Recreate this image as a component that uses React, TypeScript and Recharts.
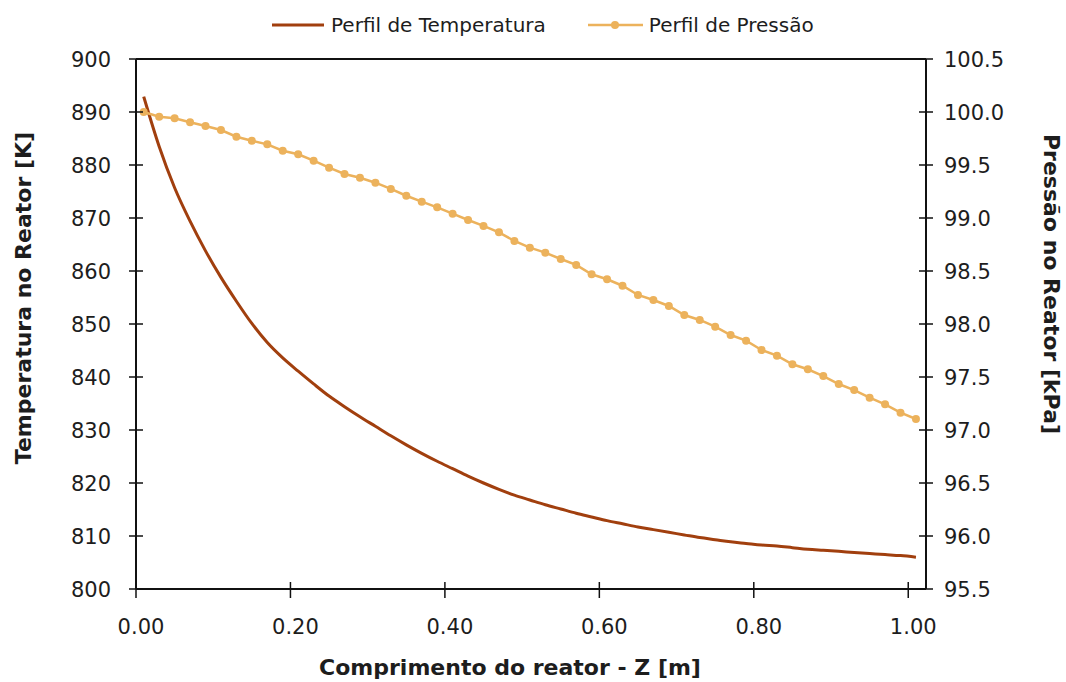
import React from 'react';
import { LineChart, Line, XAxis, YAxis, ReferenceLine, Legend } from 'recharts';

// comprimento do reator z [m]
const comprimento = [
  0.01, 0.03, 0.05, 0.07, 0.09, 0.11, 0.13, 0.15, 0.17, 0.19,
  0.21, 0.23, 0.25, 0.27, 0.29, 0.31, 0.33, 0.35, 0.37, 0.39,
  0.41, 0.43, 0.45, 0.47, 0.49, 0.51, 0.53, 0.55, 0.57, 0.59,
  0.61, 0.63, 0.65, 0.67, 0.69, 0.71, 0.73, 0.75, 0.77, 0.79,
  0.81, 0.83, 0.85, 0.87, 0.89, 0.91, 0.93, 0.95, 0.97, 0.99, 1.01,
];

// temperatura [K]
const temperatura = [
  892.9, 883.5, 875.7, 869.4, 863.8, 858.8, 854.3, 850.1, 846.5, 843.6,
  841.1, 838.7, 836.4, 834.4, 832.5, 830.7, 828.9, 827.2, 825.6, 824.1,
  822.7, 821.3, 820.0, 818.8, 817.7, 816.8, 815.9, 815.1, 814.3, 813.6,
  812.9, 812.3, 811.7, 811.2, 810.7, 810.2, 809.7, 809.3, 808.9, 808.6,
  808.3, 808.1, 807.8, 807.5, 807.3, 807.1, 806.9, 806.7, 806.5, 806.3, 806.0,
];

// pressão [kPa]
const pressao = [
  100.0, 99.956, 99.941, 99.903, 99.868, 99.83, 99.767, 99.729, 99.695, 99.635,
  99.601, 99.541, 99.475, 99.415, 99.38, 99.333, 99.274, 99.21, 99.154, 99.101,
  99.041, 98.981, 98.925, 98.865, 98.783, 98.72, 98.673, 98.613, 98.557, 98.469,
  98.422, 98.361, 98.274, 98.226, 98.17, 98.085, 98.038, 97.975, 97.896, 97.843,
  97.755, 97.701, 97.62, 97.573, 97.509, 97.434, 97.377, 97.305, 97.242, 97.163, 97.104,
];

const xTicks = [0, 0.2, 0.4, 0.6, 0.8, 1.0];
const tempTicks = [800, 810, 820, 830, 840, 850, 860, 870, 880, 890, 900];
const presTicks = [95.5, 96.0, 96.5, 97.0, 97.5, 98.0, 98.5, 99.0, 99.5, 100.0, 100.5];

const data = comprimento.map((z, i) => ({ z, temperatura: temperatura[i], pressao: pressao[i] }));

const FONT = '"DejaVu Sans", Verdana, sans-serif';
const TEMP_COLOR = '#A13F0E';
const PRES_COLOR = '#ECB25C';
const AXIS_COLOR = '#111';
const TEXT_COLOR = '#1d1d1d';

const LEFT_GAP = 25;
const RIGHT_GAP = 18;
const BOTTOM_GAP = 30;
const HALF_TICK = 7;

// axis ticks cross the axis line, like the spreadsheet style
const LeftTick = ({ x, y, payload }: any) => (
  <g>
    <line x1={x + LEFT_GAP - HALF_TICK} x2={x + LEFT_GAP + HALF_TICK} y1={y} y2={y} stroke={AXIS_COLOR} strokeWidth={1.5} />
    <text x={x} y={y} dy="0.36em" textAnchor="end" fontFamily={FONT} fontSize={21} fill={TEXT_COLOR}>
      {payload.value}
    </text>
  </g>
);

const RightTick = ({ x, y, payload }: any) => (
  <g>
    <line x1={x - RIGHT_GAP - HALF_TICK} x2={x - RIGHT_GAP + HALF_TICK} y1={y} y2={y} stroke={AXIS_COLOR} strokeWidth={1.5} />
    <text x={x} y={y} dy="0.36em" textAnchor="start" fontFamily={FONT} fontSize={21} fill={TEXT_COLOR}>
      {Number(payload.value).toFixed(1)}
    </text>
  </g>
);

const BottomTick = ({ x, y, payload }: any) => (
  <g>
    <line x1={x} x2={x} y1={y - BOTTOM_GAP - HALF_TICK} y2={y - BOTTOM_GAP + HALF_TICK + 2} stroke={AXIS_COLOR} strokeWidth={1.5} />
    <text x={x + 5} y={y} dy="0.71em" textAnchor="middle" fontFamily={FONT} fontSize={21} fill={TEXT_COLOR}>
      {Number(payload.value).toFixed(2)}
    </text>
  </g>
);

const XTitle = ({ viewBox }: any) => (
  <text x={viewBox.x + viewBox.width / 2 - 21} y={viewBox.y + 78} dy="0.35em" textAnchor="middle"
    fontFamily={FONT} fontSize={22} fontWeight="bold" fill={TEXT_COLOR}>
    Comprimento do reator - Z [m]
  </text>
);

const TempTitle = ({ viewBox }: any) => {
  const cx = viewBox.x + 23;
  const cy = viewBox.y + viewBox.height / 2 - 26;
  return (
    <text x={cx} y={cy} dy="0.35em" textAnchor="middle" transform={`rotate(-90 ${cx} ${cy})`}
      fontFamily={FONT} fontSize={22} fontWeight="bold" fill={TEXT_COLOR}>
      Temperatura no Reator [K]
    </text>
  );
};

const PresTitle = ({ viewBox }: any) => {
  const cx = viewBox.x + 126;
  const cy = viewBox.y + viewBox.height / 2 - 40;
  return (
    <text x={cx} y={cy} dy="0.35em" textAnchor="middle" transform={`rotate(90 ${cx} ${cy})`}
      fontFamily={FONT} fontSize={22} fontWeight="bold" fill={TEXT_COLOR}>
      Pressão no Reator [kPa]
    </text>
  );
};

const LegendContent = () => (
  <div style={{ position: 'relative', height: 54, fontFamily: FONT, fontSize: 20, color: TEXT_COLOR }}>
    <div style={{ position: 'absolute', left: 272, top: 8, display: 'flex', alignItems: 'center', height: 24, whiteSpace: 'nowrap' }}>
      <svg width={52} height={24}>
        <line x1={0} x2={52} y1={12} y2={12} stroke={TEMP_COLOR} strokeWidth={3} />
      </svg>
      <span style={{ marginLeft: 7 }}>Perfil de Temperatura</span>
      <svg width={55} height={24} style={{ marginLeft: 42 }}>
        <line x1={0} x2={55} y1={12} y2={12} stroke={PRES_COLOR} strokeWidth={2.5} />
        <circle cx={27} cy={12} r={4} fill={PRES_COLOR} />
      </svg>
      <span style={{ marginLeft: 6 }}>Perfil de Pressão</span>
    </div>
  </div>
);

export default function App() {
  return (
    <div style={{ position: 'absolute', left: 0, top: 0, width: 1066, height: 682, background: '#fff' }}>
      <LineChart width={1066} height={682} data={data} margin={{ top: 5, right: 0, bottom: 0, left: 0 }}>
        <Legend verticalAlign="top" align="left" content={<LegendContent />} wrapperStyle={{ top: 5, left: 0 }} />
        <XAxis
          dataKey="z"
          type="number"
          domain={[0, 1.023]}
          ticks={xTicks}
          height={93}
          tickSize={0}
          tickMargin={BOTTOM_GAP}
          tickLine={false}
          axisLine={{ stroke: AXIS_COLOR, strokeWidth: 2 }}
          tick={<BottomTick />}
          label={<XTitle />}
        />
        <YAxis
          yAxisId="temp"
          orientation="left"
          width={136}
          domain={[800, 900]}
          ticks={tempTicks}
          tickSize={0}
          tickMargin={LEFT_GAP}
          tickLine={false}
          axisLine={{ stroke: AXIS_COLOR, strokeWidth: 2 }}
          tick={<LeftTick />}
          label={<TempTitle />}
        />
        <YAxis
          yAxisId="pres"
          orientation="right"
          width={140}
          domain={[95.5, 100.5]}
          ticks={presTicks}
          tickSize={0}
          tickMargin={RIGHT_GAP}
          tickLine={false}
          axisLine={{ stroke: AXIS_COLOR, strokeWidth: 2 }}
          tick={<RightTick />}
          label={<PresTitle />}
        />
        <ReferenceLine yAxisId="temp" y={900} stroke={AXIS_COLOR} strokeWidth={2} />
        <Line
          yAxisId="temp"
          type="monotone"
          dataKey="temperatura"
          stroke={TEMP_COLOR}
          strokeWidth={3}
          dot={false}
          isAnimationActive={false}
        />
        <Line
          yAxisId="pres"
          type="linear"
          dataKey="pressao"
          stroke={PRES_COLOR}
          strokeWidth={2.5}
          dot={{ r: 4, fill: PRES_COLOR, stroke: 'none' }}
          isAnimationActive={false}
        />
      </LineChart>
    </div>
  );
}
